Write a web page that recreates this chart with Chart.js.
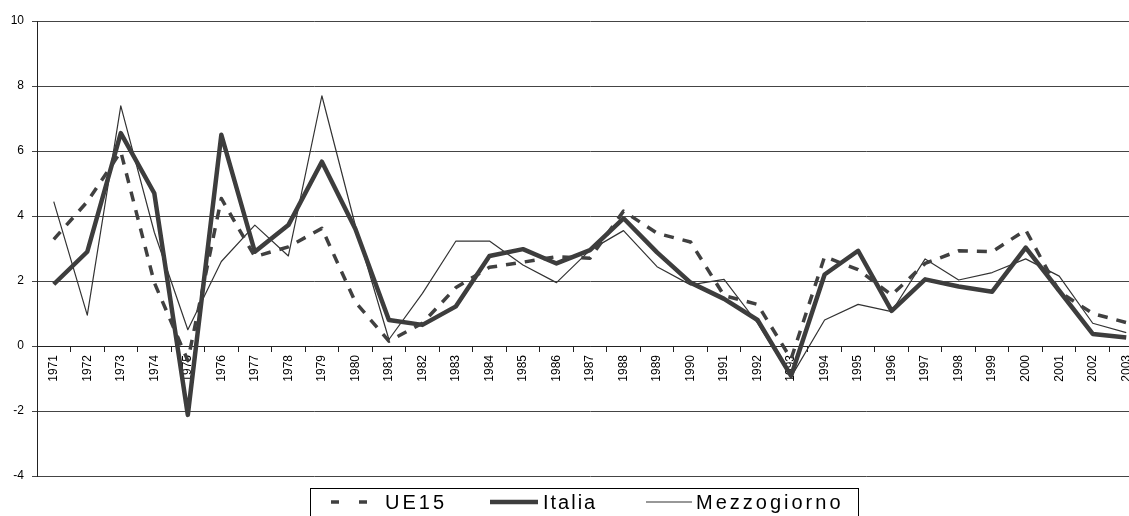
<!DOCTYPE html>
<html>
<head>
<meta charset="utf-8">
<script src="https://cdn.jsdelivr.net/npm/chart.js@4.4.0/dist/chart.umd.min.js"></script>
<style>
  body { margin: 0; overflow: hidden; background: #fff; }
</style>
</head>
<body>
<canvas id="canvasGrafico" width="1168" height="516"></canvas>
<script>
const anni = [
  '1971', '1972', '1973', '1974', '1975', '1976', '1977', '1978', '1979', '1980',
  '1981', '1982', '1983', '1984', '1985', '1986', '1987', '1988', '1989', '1990',
  '1991', '1992', '1993', '1994', '1995', '1996', '1997', '1998', '1999', '2000',
  '2001', '2002', '2003'
];

const ue15 = [
  3.28, 4.44, 5.98, 1.95, -0.45, 4.54, 2.75, 3.05, 3.62, 1.35,
  0.15, 0.7, 1.8, 2.42, 2.58, 2.75, 2.7, 4.15, 3.47, 3.2,
  1.55, 1.28, -0.4, 2.75, 2.35, 1.57, 2.54, 2.93, 2.9, 3.57,
  1.67, 1.0, 0.72
];

const italia = [
  1.9, 2.9, 6.55, 4.7, -2.12, 6.5, 2.9, 3.72, 5.67, 3.6,
  0.8, 0.65, 1.22, 2.77, 2.98, 2.54, 2.95, 3.93, 2.88, 1.95,
  1.45, 0.8, -0.92, 2.2, 2.93, 1.08, 2.05, 1.83, 1.67, 3.03,
  1.7, 0.37, 0.26
];

const mezzogiorno = [
  4.44, 0.95, 7.39, 3.5, 0.5, 2.6, 3.72, 2.77, 7.7, 3.7,
  0.2, 1.62, 3.23, 3.23, 2.49, 1.95, 2.95, 3.55, 2.44, 1.88,
  2.05, 0.7, -0.95, 0.8, 1.28, 1.06, 2.68, 2.03, 2.26, 2.68,
  2.15, 0.7, 0.41
];

const yMin = -4;
const yMax = 10;
const yStep = 2;

const fonte = 'Liberation Sans';

// legenda disegnata a mano: riquadro con bordo come nell'originale
const legendaBox = {
  id: 'legendaBox',
  afterDraw(chart) {
    const ctx = chart.ctx;
    const L = chart.width / 2 - 274;
    const top = 488;
    const yMid = 502;
    // [inizio campione, fine campione, inizio testo]
    const pos = [[21, 57, 75], [180, 228, 233], [336, 382, 386]];
    const dash = [[8, 20], [], []];
    const spazio = ['3px', '2px', '3px'];

    ctx.save();
    ctx.strokeStyle = '#000';
    ctx.lineWidth = 1;
    ctx.strokeRect(L + 0.5, top + 0.5, 548, 40);

    chart.data.datasets.forEach(function (ds, i) {
      ctx.save();
      ctx.strokeStyle = ds.borderColor;
      ctx.lineWidth = ds.borderWidth;
      ctx.setLineDash(dash[i]);
      ctx.beginPath();
      ctx.moveTo(L + pos[i][0], yMid);
      ctx.lineTo(L + pos[i][1], yMid);
      ctx.stroke();
      ctx.restore();

      ctx.fillStyle = '#000';
      ctx.font = '20px "' + fonte + '"';
      ctx.letterSpacing = spazio[i];
      ctx.textBaseline = 'middle';
      ctx.textAlign = 'left';
      ctx.fillText(ds.label, L + pos[i][2], yMid + 1);
    });
    ctx.restore();
  }
};

const data = {
  labels: anni,
  datasets: [{
    label: 'UE15',
    data: ue15,
    borderColor: '#404040',
    borderWidth: 3.5,
    borderDash: [10, 9],
    borderJoinStyle: 'round',
    pointRadius: 0,
    tension: 0,
    fill: false
  }, {
    label: 'Italia',
    data: italia,
    borderColor: '#3d3d3d',
    borderWidth: 4.5,
    borderJoinStyle: 'round',
    pointRadius: 0,
    tension: 0,
    fill: false
  }, {
    label: 'Mezzogiorno',
    data: mezzogiorno,
    borderColor: '#333333',
    borderWidth: 1.2,
    borderJoinStyle: 'round',
    pointRadius: 0,
    tension: 0,
    fill: false
  }]
};

const config = {
  type: 'line',
  data: data,
  options: {
    responsive: false,
    animation: false,
    devicePixelRatio: 1,
    layout: {
      padding: { top: 21, bottom: 40, left: 0, right: 25 }
    },
    plugins: {
      legend: { display: false },
      tooltip: { enabled: false }
    },
    scales: {
      x: {
        type: 'category',
        position: { y: 0 },
        offset: true,
        grid: {
          offset: true,
          drawOnChartArea: false,
          drawTicks: true,
          tickLength: 5,
          color: '#222'
        },
        border: { display: true, color: '#222', width: 1 },
        ticks: {
          autoSkip: false,
          minRotation: 90,
          maxRotation: 90,
          padding: 4,
          color: '#000',
          font: { family: fonte, size: 12 }
        }
      },
      y: {
        min: yMin,
        max: yMax,
        ticks: {
          stepSize: yStep,
          padding: 8,
          color: '#000',
          font: { family: fonte, size: 12 }
        },
        grid: { color: '#444', lineWidth: 1, tickLength: 5 },
        border: { display: true, color: '#222', width: 1 },
        afterFit: function (scale) { scale.width = 37; }
      }
    }
  },
  plugins: [legendaBox]
};

const graficoDash = new Chart(
  document.getElementById('canvasGrafico'),
  config
);
</script>
</body>
</html>
